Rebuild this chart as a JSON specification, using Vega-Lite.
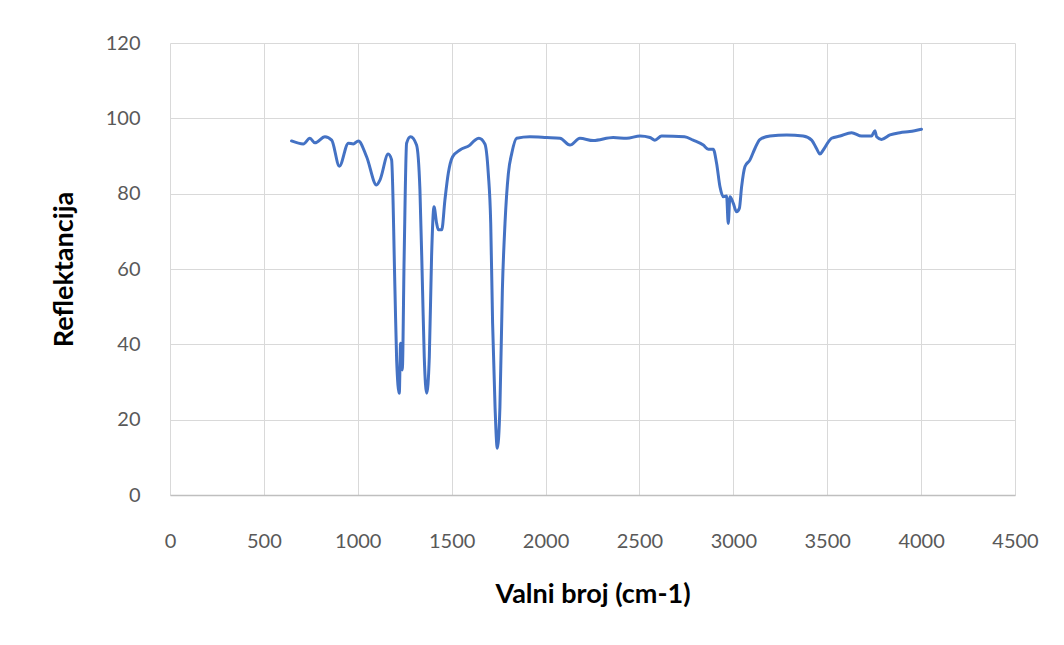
{
  "$schema": "https://vega.github.io/schema/vega-lite/v6.json",
  "autosize": "none",
  "padding": {"left": 170, "top": 43, "right": 49, "bottom": 150},
  "width": 845,
  "height": 452,
  "background": "white",
  "config": {
    "view": {"stroke": null},
    "font": "Lato"
  },
  "data": {
    "values": [
      {"wn": 647, "r": 94.0},
      {"wn": 710, "r": 93.2},
      {"wn": 745, "r": 94.7},
      {"wn": 772, "r": 93.5},
      {"wn": 825, "r": 95.1},
      {"wn": 861, "r": 94.2},
      {"wn": 902, "r": 87.3},
      {"wn": 950, "r": 93.4},
      {"wn": 976, "r": 93.2},
      {"wn": 1003, "r": 94.0},
      {"wn": 1047, "r": 89.8},
      {"wn": 1100, "r": 82.3},
      {"wn": 1118, "r": 83.6},
      {"wn": 1162, "r": 90.5},
      {"wn": 1180, "r": 89.0},
      {"wn": 1198, "r": 54.4},
      {"wn": 1207, "r": 35.8},
      {"wn": 1221, "r": 27.0},
      {"wn": 1228, "r": 40.3},
      {"wn": 1237, "r": 33.2},
      {"wn": 1247, "r": 63.3},
      {"wn": 1260, "r": 93.4},
      {"wn": 1281, "r": 95.1},
      {"wn": 1313, "r": 92.9},
      {"wn": 1331, "r": 81.0},
      {"wn": 1345, "r": 54.4},
      {"wn": 1354, "r": 36.7},
      {"wn": 1367, "r": 27.0},
      {"wn": 1381, "r": 36.7},
      {"wn": 1393, "r": 63.3},
      {"wn": 1406, "r": 76.5},
      {"wn": 1420, "r": 72.1},
      {"wn": 1429, "r": 70.4},
      {"wn": 1447, "r": 70.4},
      {"wn": 1464, "r": 78.3},
      {"wn": 1482, "r": 85.4},
      {"wn": 1505, "r": 89.8},
      {"wn": 1544, "r": 91.6},
      {"wn": 1597, "r": 92.9},
      {"wn": 1624, "r": 94.2},
      {"wn": 1645, "r": 94.7},
      {"wn": 1677, "r": 93.2},
      {"wn": 1695, "r": 85.4},
      {"wn": 1708, "r": 72.1},
      {"wn": 1718, "r": 45.6},
      {"wn": 1731, "r": 23.4},
      {"wn": 1743, "r": 12.4},
      {"wn": 1757, "r": 23.4},
      {"wn": 1770, "r": 54.4},
      {"wn": 1784, "r": 72.1},
      {"wn": 1802, "r": 85.4},
      {"wn": 1820, "r": 90.7},
      {"wn": 1846, "r": 94.7},
      {"wn": 1917, "r": 95.1},
      {"wn": 2006, "r": 94.9},
      {"wn": 2077, "r": 94.7},
      {"wn": 2130, "r": 92.9},
      {"wn": 2183, "r": 94.7},
      {"wn": 2254, "r": 94.1},
      {"wn": 2360, "r": 94.9},
      {"wn": 2432, "r": 94.7},
      {"wn": 2503, "r": 95.3},
      {"wn": 2556, "r": 94.9},
      {"wn": 2582, "r": 94.2},
      {"wn": 2618, "r": 95.3},
      {"wn": 2740, "r": 95.1},
      {"wn": 2786, "r": 94.2},
      {"wn": 2840, "r": 92.9},
      {"wn": 2867, "r": 91.8},
      {"wn": 2893, "r": 91.8},
      {"wn": 2911, "r": 88.0},
      {"wn": 2929, "r": 81.8},
      {"wn": 2946, "r": 79.2},
      {"wn": 2964, "r": 79.4},
      {"wn": 2973, "r": 72.1},
      {"wn": 2982, "r": 79.2},
      {"wn": 3000, "r": 77.4},
      {"wn": 3017, "r": 75.2},
      {"wn": 3032, "r": 76.1},
      {"wn": 3044, "r": 81.8},
      {"wn": 3062, "r": 87.2},
      {"wn": 3088, "r": 88.9},
      {"wn": 3115, "r": 92.0},
      {"wn": 3142, "r": 94.4},
      {"wn": 3195, "r": 95.3},
      {"wn": 3284, "r": 95.6},
      {"wn": 3372, "r": 95.3},
      {"wn": 3417, "r": 94.2},
      {"wn": 3443, "r": 92.0},
      {"wn": 3461, "r": 90.5},
      {"wn": 3479, "r": 91.6},
      {"wn": 3523, "r": 94.7},
      {"wn": 3568, "r": 95.3},
      {"wn": 3630, "r": 96.2},
      {"wn": 3683, "r": 95.3},
      {"wn": 3736, "r": 95.3},
      {"wn": 3754, "r": 96.7},
      {"wn": 3763, "r": 95.1},
      {"wn": 3789, "r": 94.4},
      {"wn": 3834, "r": 95.6},
      {"wn": 3887, "r": 96.2},
      {"wn": 3940, "r": 96.5},
      {"wn": 4002, "r": 97.1}
    ]
  },
  "mark": {"type": "line", "color": "#4472C4", "strokeWidth": 3, "strokeJoin": "round", "strokeCap": "round", "interpolate": "monotone", "clip": true},
  "encoding": {
    "x": {
      "field": "wn",
      "type": "quantitative",
      "scale": {"domain": [0, 4500], "nice": false, "zero": false},
      "axis": {
        "title": "Valni broj (cm-1)",
        "values": [0, 500, 1000, 1500, 2000, 2500, 3000, 3500, 4000, 4500],
        "format": "d",
        "grid": true,
        "gridColor": "#d9d9d9",
        "gridWidth": 1,
        "domainColor": "#bfbfbf",
        "domainWidth": 1.5,
        "ticks": false,
        "labelPadding": 36,
        "labelFontSize": 20,
        "labelColor": "#595959",
        "labelFlush": false,
        "labelOverlap": false,
        "titleFontSize": 27,
        "titleFontWeight": "bold",
        "titleColor": "#000000",
        "titlePadding": 30
      }
    },
    "y": {
      "field": "r",
      "type": "quantitative",
      "scale": {"domain": [0, 120], "nice": false},
      "axis": {
        "title": "Reflektancija",
        "values": [0, 20, 40, 60, 80, 100, 120],
        "grid": true,
        "gridColor": "#d9d9d9",
        "gridWidth": 1,
        "domain": false,
        "ticks": false,
        "labelPadding": 30,
        "labelFontSize": 20,
        "labelColor": "#595959",
        "labelFlush": false,
        "titleFontSize": 27,
        "titleFontWeight": "bold",
        "titleColor": "#000000",
        "titlePadding": 27
      }
    }
  }
}
